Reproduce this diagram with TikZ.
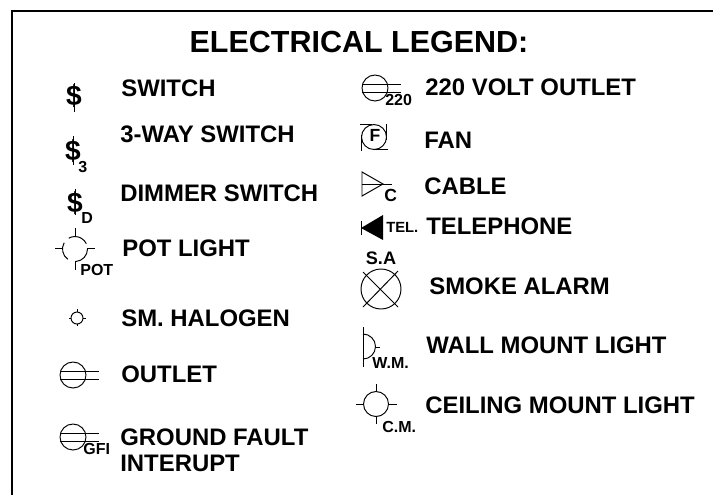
\documentclass[tikz,border=0pt]{standalone}
\usepackage{fontspec}
\setmainfont{Liberation Sans}
\usepackage{tikz}
\tikzset{
	legendtext/.style={anchor=west, inner sep=0pt, font=\fontsize{13.6}{15}\selectfont\bfseries, align=left},
	tagtext/.style={anchor=west, inner sep=0pt, font=\fontsize{9.1}{10}\selectfont\bfseries},
	dollar/.style={inner sep=0pt, font=\fontsize{16}{17}\selectfont\bfseries},
	symline/.style={line width=0.55pt}
}
\begin{document}
\begin{tikzpicture}[x=0.02cm,y=-0.02cm]
	\useasboundingbox (0,0) rectangle (713,495);
	\draw [line width=1.1pt] (12,495) -- (12,11) -- (713,11);

	\node [inner sep=0pt, font=\fontsize{17.35}{19}\selectfont\bfseries] (title) at (359,42) {ELECTRICAL LEGEND:};

	% left column
	\node [legendtext] (switch) at (121,88) {SWITCH};
	\node [legendtext] (threeway) at (120,134) {3-WAY SWITCH};
	\node [legendtext] (dimmer) at (120,193) {DIMMER SWITCH};
	\node [legendtext] (pot) at (122,248) {POT LIGHT};
	\node [legendtext] (halogen) at (121,318) {SM. HALOGEN};
	\node [legendtext] (outlet) at (121,374) {OUTLET};
	\node [legendtext] (gfi) at (120,450) {GROUND FAULT\\INTERUPT};

	% right column
	\node [legendtext] (volt) at (425,87) {220 VOLT OUTLET};
	\node [legendtext] (fan) at (424,140) {FAN};
	\node [legendtext] (cable) at (424,186) {CABLE};
	\node [legendtext] (tel) at (426,226) {TELEPHONE};
	\node [legendtext] (smoke) at (429,286) {SMOKE ALARM};
	\node [legendtext] (wall) at (426,345) {WALL MOUNT LIGHT};
	\node [legendtext] (ceil) at (425,405) {CEILING MOUNT LIGHT};

	% switches
	\draw [symline] (74,83) -- (74,112);
	\node [dollar] (s1) at (74,96) {\$};
	\draw [symline] (73,136) -- (73,165);
	\node [dollar] (s2) at (73,151) {\$};
	\node [tagtext] (s2t) at (78,167) {3};
	\draw [symline] (75,189) -- (75,215);
	\node [dollar] (s3) at (75,203) {\$};
	\node [tagtext] (s3t) at (81,218) {D};

	% pot light
	\draw [symline] (75,228) -- (75,237);
	\draw [symline] (55,248) -- (63,248) (87,248) -- (95,248);
	\draw [symline] (75,261) -- (75,270);
	\draw [symline] (75,249) ++(-120:12.5) arc (-120:-25:12.5);
	\draw [symline] (75,249) ++(-150:12.5) arc (-150:-235:12.5);
	\draw [symline] (75,249) ++(0:12.5) arc (0:85:12.5);
	\node [tagtext] (pott) at (80,270) {POT};

	% halogen
	\draw [symline] (77,318) circle (6);
	\draw [symline] (69,318) -- (71,318) (83,318) -- (86,318) (77,309) -- (77,312) (77,324) -- (77,326);

	% outlet
	\draw [symline] (73,375) circle (13);
	\draw [symline] (60,371) -- (99,371) (60,379) -- (99,379);

	% gfi
	\draw [symline] (73,437) circle (13);
	\draw [symline] (60,433) -- (99,433) (60,441) -- (99,441);
	\node [tagtext] (gfit) at (83,449) {GFI};

	% 220 outlet
	\draw [symline] (375,88) circle (13);
	\draw [symline] (362,84) -- (401,84) (362,92) -- (401,92);
	\node [tagtext] (vt) at (385,100) {220};

	% fan
	\draw [symline] (374,137) circle (12.5);
	\node [tagtext, anchor=center, font=\fontsize{10}{11}\selectfont\bfseries] (ft) at (375,135) {F};
	\draw [symline] (360,124) -- (372,124) (386,124) -- (386,140) (361,135) -- (361,151) (375,149) -- (388,149);

	% cable
	\draw [symline] (362,172) -- (383,184) -- (362,196) -- cycle;
	\draw [symline] (362,184) -- (392,184);
	\node [tagtext, font=\fontsize{10}{11}\selectfont\bfseries] (ct) at (384,195) {C};

	% telephone
	\draw [symline] (361,221) -- (361,235);
	\fill (361,228) -- (383,215) -- (383,240) -- cycle;
	\node [tagtext, font=\fontsize{8.4}{9}\selectfont\bfseries] (tt) at (386,227) {TEL.};

	% smoke alarm
	\node [tagtext, anchor=center, font=\fontsize{10.3}{11}\selectfont\bfseries] (sa) at (381,258) {S.A};
	\draw [symline] (381,289) circle (20);
	\draw [symline] (363,272) -- (398,307) (398,271) -- (363,307);

	% wall mount
	\draw [symline] (363,327) -- (363,367);
	\draw [symline] (363,334) arc (-90:90:12.5);
	\draw [symline] (375,347) -- (380,347);
	\node [tagtext] (wt) at (372,363) {W.M.};

	% ceiling mount
	\draw [symline] (376,404) circle (12.5);
	\draw [symline] (356,404) -- (363,404) (389,404) -- (397,404) (376,384) -- (376,391) (376,417) -- (376,424);
	\node [tagtext] (cmt) at (382,427) {C.M.};
\end{tikzpicture}
\end{document}
